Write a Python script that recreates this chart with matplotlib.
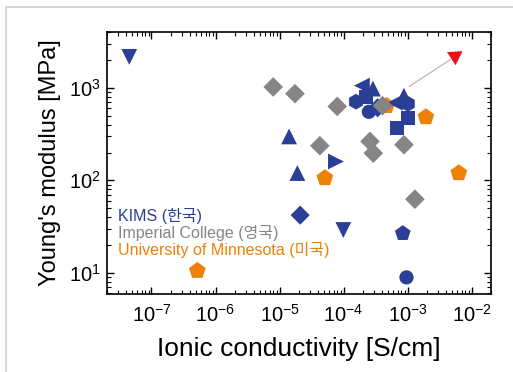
import matplotlib
matplotlib.use("Agg")
import matplotlib.pyplot as plt
from matplotlib.lines import Line2D

plt.rcParams['font.family'] = ['Liberation Sans', 'Noto Sans CJK KR', 'DejaVu Sans']

# KIMS (Korea) points
kims_x = [4.5e-8, 1.41e-5, 1.9e-5, 7.6e-5, 2.1e-5, 9.9e-5, 8.4e-4, 9.6e-4,
          1.93e-4, 2.87e-4, 1.56e-4, 2.23e-4, 2.48e-4, 3.4e-4,
          6.34e-4, 8.75e-4, 1.01e-3, 1.01e-3, 6.8e-4]
kims_y = [2170, 299, 120, 160, 42, 29, 26.7, 8.9,
          1060, 985, 710, 804, 552, 611,
          692, 825, 674, 475, 370]
kims_m = ['v', '^', '^', '>', 'D', 'v', 'p', 'o',
          '<', '^', 'h', 's', 'o', 'D',
          '<', '^', 'h', 's', 's']

# Imperial College (UK)
ic_x = [7.96e-6, 1.74e-5, 7.96e-5, 4.26e-5, 2.58e-4, 2.91e-4, 4.06e-4, 8.77e-4, 1.30e-3]
ic_y = [1025, 868, 632, 237, 264, 197, 643, 243, 62.5]

# University of Minnesota (USA)
um_x = [5.2e-7, 5.1e-5, 4.7e-4, 1.93e-3, 6.3e-3]
um_y = [10.5, 106, 640, 484, 120]

# Target (red)
target_x = [5.5e-3]
target_y = [2210]
arrow_start = (1.06e-3, 1040)

BLUE = '#2C3F96'
GRAY = '#858585'
ORANGE = '#EF8006'
RED = '#E8101A'

fig = plt.figure(figsize=(5.13, 3.72), dpi=100)
ax = fig.add_axes([0.208, 0.210, 0.749, 0.703])

sizes = {'v': 130, '^': 130, '>': 130, '<': 130, 'D': 95, 'p': 140, 'o': 105, 'h': 130, 's': 105}

ax.scatter(um_x, um_y, marker='p', s=160, color=ORANGE, edgecolors='none', zorder=2)
ax.scatter(ic_x, ic_y, marker='D', s=100, color=GRAY, edgecolors='none', zorder=4)
for x, y, m in zip(kims_x, kims_y, kims_m):
    ax.scatter([x], [y], marker=m, s=sizes[m], color=BLUE, edgecolors='none', zorder=3)

ax.plot([arrow_start[0], target_x[0] * 0.85], [arrow_start[1], target_y[0] * 0.92],
        color='#C9A6AE', lw=0.8, zorder=1)
ax.scatter(target_x, target_y, marker=(3, 0, -56.5), s=170, color=RED,
           edgecolors='none', zorder=5)

ax.set_xscale('log')
ax.set_yscale('log')
ax.set_xlim(2e-8, 2e-2)
ax.set_ylim(5.9, 4000)
ax.set_xticks([1e-7, 1e-6, 1e-5, 1e-4, 1e-3, 1e-2])
ax.set_yticks([10, 100, 1000])

ax.tick_params(which='both', direction='in', top=True, right=True, labelsize=14.5)
ax.tick_params(which='major', length=5, width=1)
ax.tick_params(which='minor', length=3, width=0.8)
ax.tick_params(axis='x', pad=7)
ax.tick_params(axis='y', pad=4)
for s in ax.spines.values():
    s.set_linewidth(1.2)

ax.set_xlabel('Ionic conductivity [S/cm]', fontsize=19, labelpad=8)
ax.set_ylabel("Young's modulus [MPa]", fontsize=17, labelpad=6)

ax.text(0.03, 0.298, 'KIMS (한국)', color=BLUE, fontsize=11.5, va='center', transform=ax.transAxes)
ax.text(0.03, 0.233, 'Imperial College (영국)', color=GRAY, fontsize=11.5, va='center', transform=ax.transAxes)
ax.text(0.03, 0.168, 'University of Minnesota (미국)', color=ORANGE, fontsize=11.5, va='center', transform=ax.transAxes)

# light frame lines of the figure
fig.add_artist(Line2D([0.0117, 1.0], [0.981, 0.981], color='#D0D0D0', lw=1.2, transform=fig.transFigure))
fig.add_artist(Line2D([0.0117, 0.0117], [0.0, 0.981], color='#D0D0D0', lw=1.2, transform=fig.transFigure))

fig.savefig('out.png', dpi=100)
